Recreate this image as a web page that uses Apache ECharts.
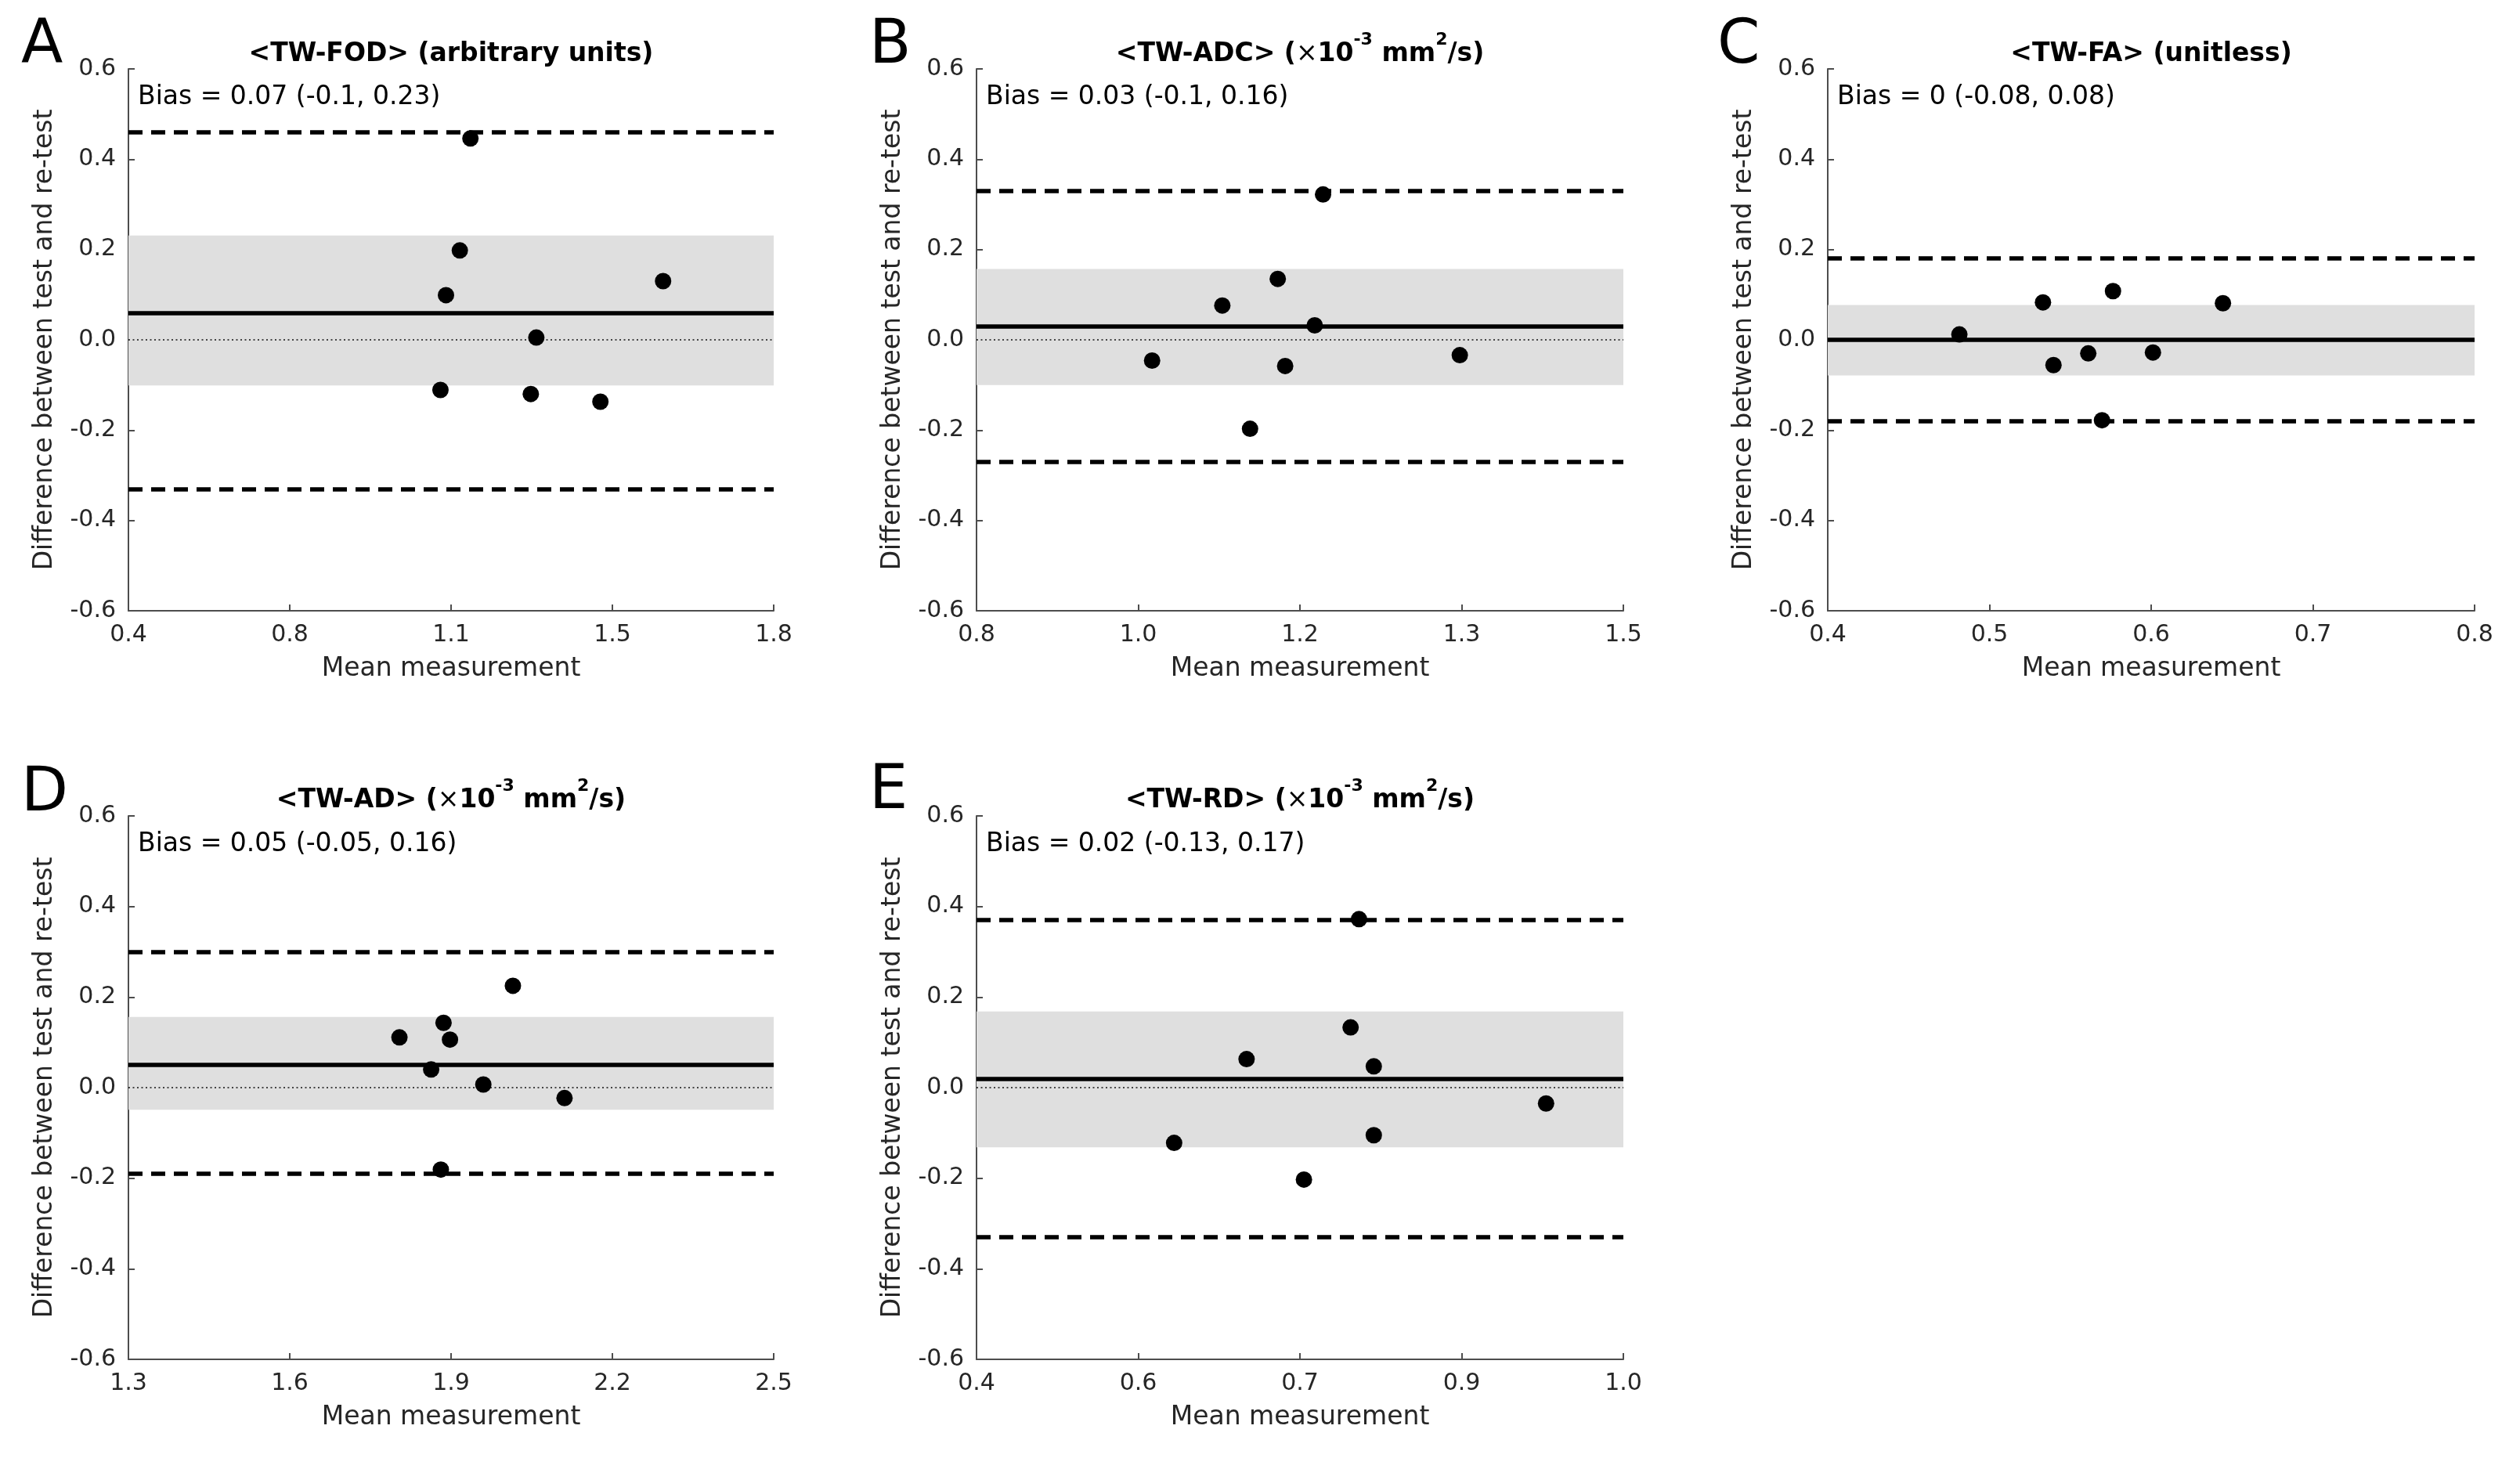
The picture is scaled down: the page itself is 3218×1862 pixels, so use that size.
<!DOCTYPE html>
<html><head><meta charset="utf-8">
<script src="https://cdn.jsdelivr.net/npm/echarts@6/dist/echarts.min.js"></script>
<style>html,body{margin:0;padding:0;background:#fff}#c{width:3218px;height:1862px}</style>
</head><body><div id="c"></div>
<script>
// ---- data ----
const panelLetters = ['A', 'B', 'C', 'D', 'E'];
const panelTitles = [
  '{b|<TW-FOD> (arbitrary units)}',
  '{b|<TW-ADC> (}{n|×}{b|10}{s|-3}{b| mm}{s|2}{b|/s)}',
  '{b|<TW-FA> (unitless)}',
  '{b|<TW-AD> (}{n|×}{b|10}{s|-3}{b| mm}{s|2}{b|/s)}',
  '{b|<TW-RD> (}{n|×}{b|10}{s|-3}{b| mm}{s|2}{b|/s)}'
];
const biasLabels = [
  'Bias = 0.07 (-0.1, 0.23)',
  'Bias = 0.03 (-0.1, 0.16)',
  'Bias = 0 (-0.08, 0.08)',
  'Bias = 0.05 (-0.05, 0.16)',
  'Bias = 0.02 (-0.13, 0.17)'
];

const fodX = [1.142, 1.119, 1.089, 1.560, 1.285, 1.077, 1.273, 1.424];
const fodY = [0.446, 0.198, 0.099, 0.130, 0.005, -0.111, -0.120, -0.137];
const adcX = [1.175, 1.126, 1.066, 1.166, 0.990, 1.134, 1.323, 1.096];
const adcY = [0.322, 0.135, 0.076, 0.032, -0.046, -0.058, -0.034, -0.197];
const faX = [0.4814, 0.5331, 0.5764, 0.6444, 0.5611, 0.6011, 0.5396, 0.5696];
const faY = [0.012, 0.083, 0.108, 0.081, -0.030, -0.028, -0.056, -0.178];
const adX = [1.804, 1.886, 1.898, 2.015, 1.863, 1.960, 2.111, 1.881];
const adY = [0.111, 0.143, 0.106, 0.225, 0.040, 0.007, -0.023, -0.181];
const rdX = [0.7548, 0.7470, 0.6505, 0.7685, 0.9283, 0.7685, 0.5833, 0.7037];
const rdY = [0.372, 0.133, 0.063, 0.047, -0.035, -0.105, -0.122, -0.203];

const meanDiff = [0.064, 0.030, 0.000, 0.054, 0.019];
const loaUpper = [0.455, 0.333, 0.184, 0.296, 0.372];
const loaLower = [-0.326, -0.274, -0.184, -0.189, -0.334];
const ciUpper = [0.231, 0.157, 0.077, 0.156, 0.168];
const ciLower = [-0.101, -0.100, -0.079, -0.049, -0.132];

const xMin = [0.4, 0.8, 0.4, 1.3, 0.4];
const xMax = [1.8, 1.5, 0.8, 2.5, 1.0];
const xTickValues = [
  [0.4, 0.75, 1.1, 1.45, 1.8],
  [0.8, 0.975, 1.15, 1.325, 1.5],
  [0.4, 0.5, 0.6, 0.7, 0.8],
  [1.3, 1.6, 1.9, 2.2, 2.5],
  [0.4, 0.55, 0.7, 0.85, 1.0]
];
const xTickLabels = [
  ['0.4', '0.8', '1.1', '1.5', '1.8'],
  ['0.8', '1.0', '1.2', '1.3', '1.5'],
  ['0.4', '0.5', '0.6', '0.7', '0.8'],
  ['1.3', '1.6', '1.9', '2.2', '2.5'],
  ['0.4', '0.6', '0.7', '0.9', '1.0']
];
const yTickValues = [-0.6, -0.4, -0.2, 0, 0.2, 0.4, 0.6];
const yTickLabels = ['-0.6', '-0.4', '-0.2', '0.0', '0.2', '0.4', '0.6'];

const xName = 'Mean measurement';
const yName = 'Difference between test and re-test';

// ---- layout / style ----
const allX = [fodX, adcX, faX, adX, rdX];
const allY = [fodY, adcY, faY, adY, rdY];
const grids = [
  {left: 164, top: 88, width: 824, height: 692},
  {left: 1247, top: 88, width: 826, height: 692},
  {left: 2334, top: 88, width: 826, height: 692},
  {left: 164, top: 1042, width: 824, height: 694},
  {left: 1247, top: 1042, width: 826, height: 694}
];
const titleCenterY = [63, 63, 63, 1016, 1016];
const biasY = [124, 124, 124, 1078, 1078];
const letterPos = [[27, 60], [1110, 60], [2193, 60], [27, 1015], [1110, 1012]];
const FONT = '"DejaVu Sans", "Noto Sans", sans-serif';
const AX = '#262626';
const AXLINE = '#4d4d4d';

function labelFor(values, labels) {
  return function (v) {
    for (let k = 0; k < values.length; k++) {
      if (Math.abs(v - values[k]) < 1e-6) return labels[k];
    }
    return '';
  };
}

const xAxes = [], yAxes = [], series = [], titles = [], graphics = [];
for (let i = 0; i < 5; i++) {
  const g = grids[i];
  xAxes.push({
    type: 'value', gridIndex: i, min: xMin[i], max: xMax[i],
    name: xName, nameLocation: 'middle', nameGap: 58,
    nameTextStyle: {fontFamily: FONT, fontSize: 33, color: AX},
    axisLine: {show: true, onZero: false, lineStyle: {color: AXLINE, width: 2}},
    axisTick: {show: true, inside: true, length: 8, customValues: xTickValues[i], lineStyle: {color: AXLINE, width: 2}},
    axisLabel: {show: true, margin: 16, fontFamily: FONT, fontSize: 30, color: AX,
      customValues: xTickValues[i], formatter: labelFor(xTickValues[i], xTickLabels[i])},
    splitLine: {show: false}
  });
  yAxes.push({
    type: 'value', gridIndex: i, min: -0.6, max: 0.6,
    name: yName, nameLocation: 'middle', nameGap: 90, nameRotate: 90,
    nameTextStyle: {fontFamily: FONT, fontSize: 33, color: AX},
    axisLine: {show: true, onZero: false, lineStyle: {color: AXLINE, width: 2}},
    axisTick: {show: true, inside: true, length: 8, customValues: yTickValues, lineStyle: {color: AXLINE, width: 2}},
    axisLabel: {show: true, margin: 16, fontFamily: FONT, fontSize: 30, color: AX,
      customValues: yTickValues, formatter: labelFor(yTickValues, yTickLabels)},
    splitLine: {show: false}
  });
  series.push({
    type: 'scatter', xAxisIndex: i, yAxisIndex: i, z: 10, silent: true,
    data: allX[i].map((x, k) => [x, allY[i][k]]),
    symbol: 'circle', symbolSize: 21, itemStyle: {color: '#000', opacity: 1},
    markArea: {silent: true, z: 1, itemStyle: {color: '#dfdfdf'},
      data: [[{yAxis: ciLower[i]}, {yAxis: ciUpper[i]}]]},
    markLine: {silent: true, z: 2, symbol: 'none', label: {show: false}, animation: false,
      emphasis: {disabled: true},
      data: [
        {yAxis: 0, lineStyle: {color: '#444', width: 1.8, type: [2, 3.5]}},
        {yAxis: meanDiff[i], lineStyle: {color: '#000', width: 5.5, type: 'solid'}},
        {yAxis: loaUpper[i], lineStyle: {color: '#000', width: 5.5, type: [18, 11]}},
        {yAxis: loaLower[i], lineStyle: {color: '#000', width: 5.5, type: [18, 11]}}
      ]}
  });
  titles.push({
    text: panelTitles[i], left: g.left + g.width / 2, top: titleCenterY[i] - 23,
    textAlign: 'center', padding: 0,
    textStyle: {
      fontFamily: FONT, fontSize: 33, color: '#000',
      rich: {
        b: {fontFamily: FONT, fontSize: 33, fontWeight: 'bold', color: '#000', lineHeight: 46, verticalAlign: 'bottom'},
        n: {fontFamily: FONT, fontSize: 33, fontWeight: 'normal', color: '#000', lineHeight: 46, verticalAlign: 'bottom'},
        s: {fontFamily: FONT, fontSize: 22, fontWeight: 'bold', color: '#000', lineHeight: 22, verticalAlign: 'top'}
      }
    }
  });
  graphics.push({
    type: 'text', silent: true,
    style: {text: biasLabels[i], x: g.left + 12, y: biasY[i], font: '33px ' + FONT, fill: '#000', verticalAlign: 'middle'}
  });
  graphics.push({
    type: 'text', silent: true,
    style: {text: panelLetters[i], x: letterPos[i][0], y: letterPos[i][1], font: '78px ' + FONT, fill: '#000', verticalAlign: 'middle'}
  });
}

const chart = echarts.init(document.getElementById('c'), null, {renderer: 'canvas'});
chart.setOption({
  backgroundColor: '#fff',
  animation: false,
  title: titles,
  grid: grids,
  xAxis: xAxes,
  yAxis: yAxes,
  series: series,
  graphic: graphics
});
</script>
</body></html>
